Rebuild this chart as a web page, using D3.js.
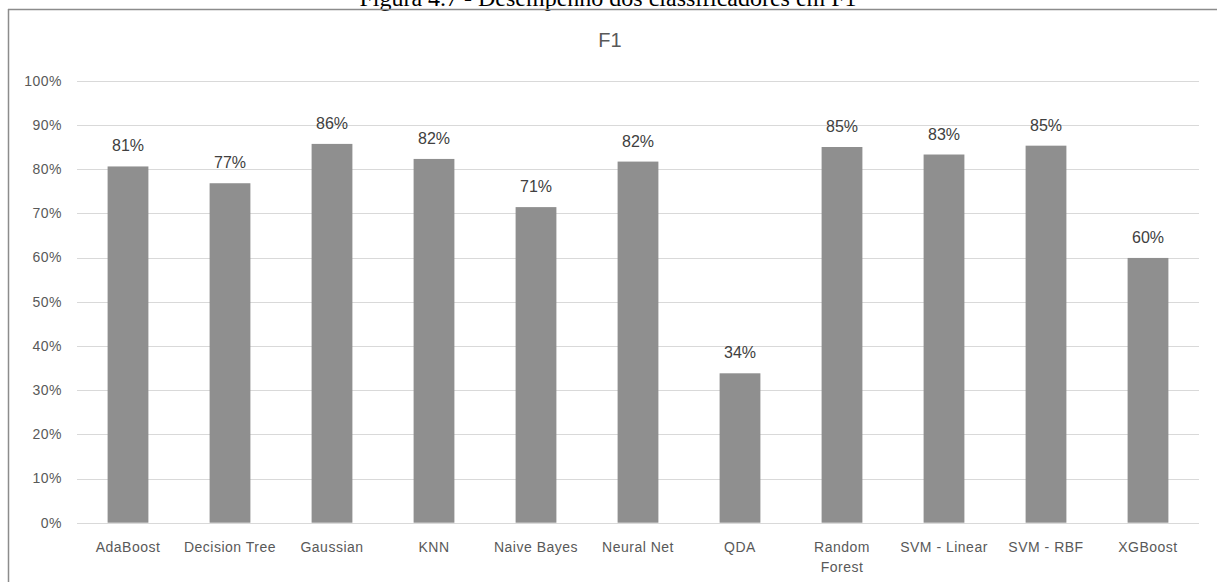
<!DOCTYPE html>
<html>
<head>
<meta charset="utf-8">
<script src="https://cdn.jsdelivr.net/npm/d3@7"></script>
<style>
  html, body { margin: 0; padding: 0; background: #fff; }
  svg { display: block; }
</style>
</head>
<body>
<svg id="chart" width="1217" height="582"></svg>
<script>
// Classifier F1 scores
const categories = ["AdaBoost", "Decision Tree", "Gaussian", "KNN", "Naive Bayes", "Neural Net",
                    "QDA", "Random Forest", "SVM - Linear", "SVM - RBF", "XGBoost"];
const f1Values = [0.806, 0.768, 0.857, 0.823, 0.714, 0.817, 0.338, 0.850, 0.833, 0.853, 0.599];
const yTicks = [0, 0.1, 0.2, 0.3, 0.4, 0.5, 0.6, 0.7, 0.8, 0.9, 1.0];

const chartTitle = "F1";
const caption = "Figura 4.7 - Desempenho dos classificadores em F1";

const W = 1217, H = 582;
const plot = { left: 77, right: 1199, top: 80.7, bottom: 522.7 };
const sans = "'Liberation Sans', Arial, sans-serif";

const svg = d3.select("#chart");

// Figure caption above the chart frame
svg.append("text")
  .attr("x", 608).attr("y", 6)
  .attr("text-anchor", "middle")
  .attr("font-family", "'Liberation Serif', 'Times New Roman', serif")
  .attr("font-size", 24)
  .attr("fill", "#000")
  .text(caption);

// Chart frame
svg.append("line").attr("x1", 8).attr("x2", W).attr("y1", 9.5).attr("y2", 9.5)
  .attr("stroke", "#8c8c8c").attr("stroke-width", 1.5);
svg.append("line").attr("x1", 8.5).attr("x2", 8.5).attr("y1", 9).attr("y2", H)
  .attr("stroke", "#8c8c8c").attr("stroke-width", 1.5);

// Title
svg.append("text")
  .attr("x", 610).attr("y", 47)
  .attr("text-anchor", "middle")
  .attr("font-family", sans)
  .attr("font-size", 20)
  .attr("fill", "#595959")
  .text(chartTitle);

const x = d3.scaleBand()
  .domain(categories)
  .range([plot.left, plot.right])
  .paddingInner(0.6)
  .paddingOuter(0.3);

const y = d3.scaleLinear()
  .domain([0, 1])
  .range([plot.bottom, plot.top]);

// Gridlines
svg.append("g")
  .selectAll("line")
  .data(yTicks)
  .join("line")
  .attr("x1", plot.left).attr("x2", plot.right)
  .attr("y1", d => Math.round(y(d)) + 0.5)
  .attr("y2", d => Math.round(y(d)) + 0.5)
  .attr("stroke", "#d9d9d9")
  .attr("stroke-width", 1.2);

// Y axis labels
const yAxis = d3.axisLeft(y)
  .tickValues(yTicks)
  .tickFormat(d3.format(".0%"))
  .tickSize(0)
  .tickPadding(0);

const yG = svg.append("g")
  .attr("transform", `translate(${plot.left - 15},0)`)
  .call(yAxis);
yG.select(".domain").remove();
yG.selectAll("text")
  .attr("font-family", sans)
  .attr("font-size", 14)
  .attr("letter-spacing", "0.5px")
  .attr("fill", "#595959");

// Bars
svg.append("g")
  .selectAll("rect")
  .data(categories)
  .join("rect")
  .attr("x", d => x(d))
  .attr("width", x.bandwidth())
  .attr("y", (d, i) => y(f1Values[i]))
  .attr("height", (d, i) => y(0) - y(f1Values[i]))
  .attr("fill", "#8f8f8f");

// Value labels
svg.append("g")
  .selectAll("text")
  .data(categories)
  .join("text")
  .attr("x", d => x(d) + x.bandwidth() / 2)
  .attr("y", (d, i) => y(f1Values[i]) - 15)
  .attr("text-anchor", "middle")
  .attr("font-family", sans)
  .attr("font-size", 16)
  .attr("fill", "#404040")
  .text((d, i) => d3.format(".0%")(f1Values[i]));

// Category axis (labels wrap when wider than the band)
const xAxis = d3.axisBottom(x).tickSize(0).tickPadding(0);
const xG = svg.append("g")
  .attr("transform", `translate(0,${plot.bottom})`)
  .call(xAxis);
xG.select(".domain").remove();
const step = x.step();
xG.selectAll("text")
  .attr("font-family", sans)
  .attr("font-size", 14)
  .attr("letter-spacing", "0.5px")
  .attr("fill", "#595959")
  .attr("y", 29)
  .attr("dy", 0)
  .each(function (d) {
    const t = d3.select(this);
    if (this.getComputedTextLength() > step * 0.97 && d.includes(" ")) {
      const words = d.split(" ");
      t.text(null);
      words.forEach((w, k) => {
        t.append("tspan").attr("x", 0).attr("dy", k === 0 ? 0 : 20).text(w);
      });
    }
  });
</script>
</body>
</html>
